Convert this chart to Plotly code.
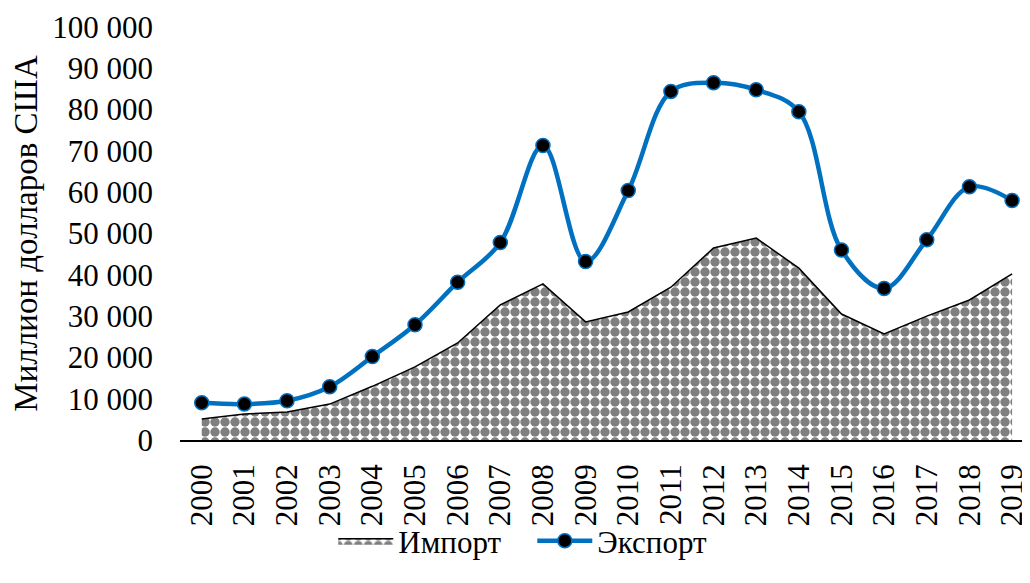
import plotly.graph_objects as go

years = [str(y) for y in range(2000, 2020)]
imports = [5100, 6300, 6800, 8700, 13000, 17700, 23500, 32700, 37800, 28600,
           31000, 37000, 46500, 48900, 41600, 30500, 25700, 30000, 33900, 40200]
exports = [9000, 8700, 9500, 12900, 20200, 27900, 38200, 47800, 71300, 43200,
           60400, 84400, 86500, 84800, 79500, 46000, 36700, 48500, 61300, 58000]

FONT = "Liberation Serif"

fig = go.Figure()

# Import: checkered area
fig.add_trace(go.Scatter(
    x=years, y=imports,
    name="Импорт",
    mode="lines",
    fill="tozeroy",
    line=dict(color="black", width=1.5),
    fillcolor="white",
    fillpattern=dict(shape=".", fgcolor="black", bgcolor="white",
                     size=10, solidity=0.7),
))

# Export: smoothed line with markers
fig.add_trace(go.Scatter(
    x=years, y=exports,
    name="Экспорт",
    mode="lines+markers",
    line=dict(color="#0070C0", width=4.5, shape="spline", smoothing=1),
    marker=dict(color="black", size=14, line=dict(color="#0070C0", width=1.5)),
))

# page body adds an 8px offset, so the figure is a bit smaller than the window
fig.update_layout(
    width=1022, height=575,
    margin=dict(l=172, r=0, t=19, b=143),
    paper_bgcolor="white", plot_bgcolor="white",
    font=dict(family=FONT, size=31, color="black"),
    separators=". ",
    showlegend=True,
    legend=dict(orientation="h", xref="container", yref="container",
                x=0.513, y=0.073, xanchor="center", yanchor="middle",
                bgcolor="rgba(0,0,0,0)", entrywidth=129, entrywidthmode="pixels",
                font=dict(size=31), itemwidth=55, traceorder="normal"),
    xaxis=dict(type="category", range=[-0.51, 19.42], showline=True,
               linecolor="black", linewidth=1.5, showgrid=False,
               ticks="", tickangle=-90, ticklabelstandoff=10,
               automargin=False),
    yaxis=dict(range=[0, 100000], dtick=10000, tickformat=",d",
               showgrid=False, zeroline=False, showline=False,
               ticks="", ticklabelstandoff=26, automargin=False,
               title=dict(text="Миллион долларов США", standoff=10,
                          font=dict(size=33))),
)

fig.write_html("out.html")
